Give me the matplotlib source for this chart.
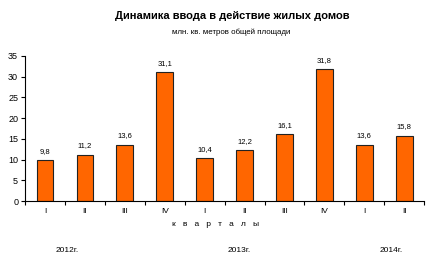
import matplotlib.pyplot as plt

quarters = ["I", "II", "III", "IV", "I", "II", "III", "IV", "I", "II"]
values = [9.8, 11.2, 13.6, 31.1, 10.4, 12.2, 16.1, 31.8, 13.6, 15.8]
years = ["2012г.", "2013г.", "2014г."]
year_pos = [0.55, 4.875, 8.675]

plt.rcParams["font.family"] = ["Liberation Sans", "DejaVu Sans"]

fig = plt.figure(figsize=(4.4, 2.74), dpi=100)
ax = fig.add_axes([0.057, 0.266, 0.907, 0.530])

x = range(len(values))
bars = ax.bar(x, values, width=0.42, color="#FF6600", edgecolor="#222222", linewidth=0.8)

for bar, v in zip(bars, values):
    ax.text(bar.get_x() + bar.get_width() / 2, v + 1.3, f"{v:.1f}".replace(".", ","),
            ha="center", va="bottom", fontsize=5.5)

ax.set_xlim(-0.5, 9.5)
ax.set_ylim(0, 35)
ax.set_yticks(range(0, 36, 5))
ax.set_xticks([i - 0.5 for i in range(11)])
ax.set_xticklabels([])
ax.set_xticks(list(x), minor=True)
ax.set_xticklabels(quarters, minor=True, fontsize=6)
ax.tick_params(axis="x", which="minor", length=0, pad=5)
ax.tick_params(axis="x", which="major", length=3, direction="out")
ax.tick_params(axis="y", labelsize=6.5, length=3, direction="out", pad=2)

for s in ["top", "right"]:
    ax.spines[s].set_visible(False)

fig.text(0.527, 0.93, "Динамика ввода в действие жилых домов", ha="center",
         fontsize=8, fontweight="bold")
fig.text(0.525, 0.875, "млн. кв. метров общей площади", ha="center", fontsize=5.7)
fig.text(0.49, 0.175, "к   в   а   р   т   а   л   ы", ha="center", fontsize=6)

for yr, p in zip(years, year_pos):
    ax.text(p, -0.34, yr, transform=ax.get_xaxis_transform(), ha="center",
            va="center", fontsize=6)

fig.savefig("out.png", dpi=100)
